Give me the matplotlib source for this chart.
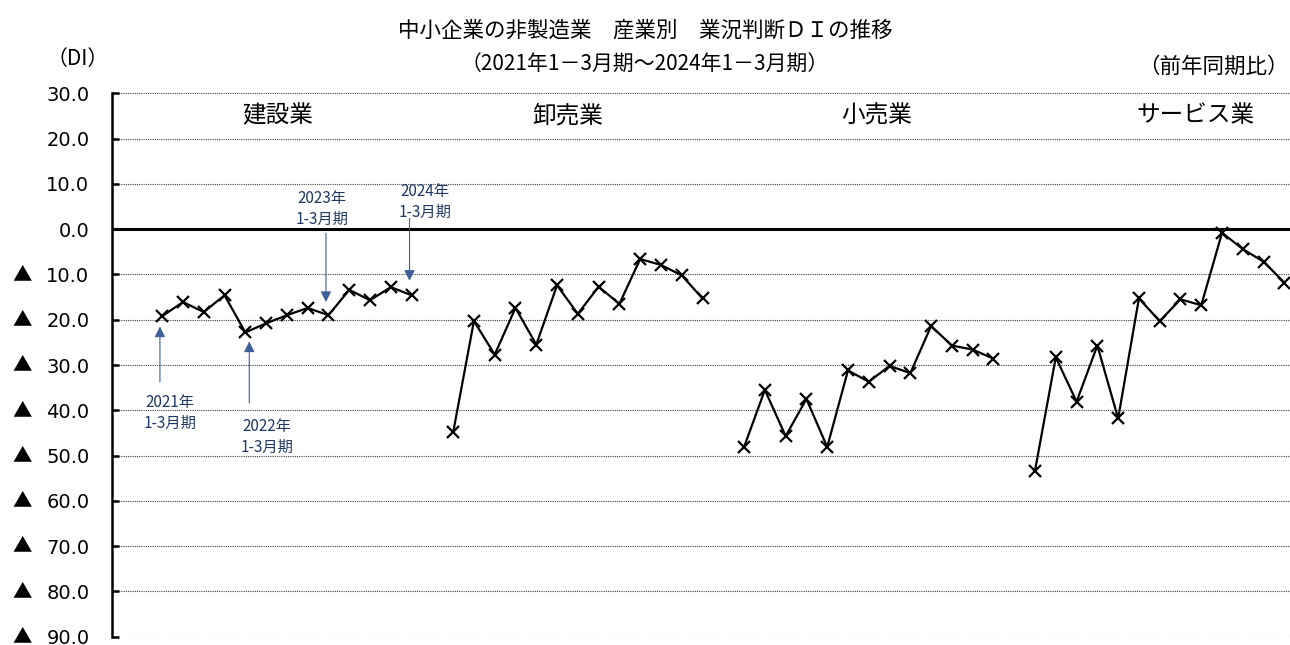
import numpy as np
import matplotlib.pyplot as plt
from matplotlib.transforms import blended_transform_factory

plt.rcParams['font.family'] = ['Noto Sans CJK JP', 'DejaVu Sans']

# 業況判断DI（前年同期比）, 2021年1-3月期 〜 2024年1-3月期
industries = ['建設業', '卸売業', '小売業', 'サービス業']
construction = [-19.2, -16.1, -18.3, -14.6, -22.8, -20.8, -19.0, -17.4, -19.0, -13.4, -15.7, -12.8, -14.6]
wholesale = [-44.9, -20.3, -27.7, -17.4, -25.5, -12.4, -18.7, -12.7, -16.5, -6.6, -7.9, -10.2, -15.3]
retail = [-48.1, -35.5, -45.7, -37.5, -48.1, -31.2, -33.7, -30.2, -31.8, -21.4, -25.7, -26.6, -28.6]
services = [-53.3, -28.3, -38.1, -25.7, -41.8, -15.3, -20.3, -15.5, -16.8, -0.8, -4.4, -7.2, -11.8]
yticks = [30, 20, 10, 0, -10, -20, -30, -40, -50, -60, -70, -80, -90]

series = [construction, wholesale, retail, services]
n = len(construction)
gap = 1  # one empty quarter between industries
label_x = [5.54, 19.5, 34.4, 49.7]  # where the industry names sit

fig = plt.figure(figsize=(12.9, 6.45), dpi=100)
ax = fig.add_axes([0.0866, 0.0129, 0.9134, 0.8424])

for yv in yticks:
    if yv == 0:
        ax.axhline(yv, color='black', lw=2.2, zorder=1)
    else:
        ax.axhline(yv, color='#444444', lw=0.8, ls=(0, (1, 1)), zorder=1)

for k, vals in enumerate(series):
    x = np.arange(n) + k * (n + gap)
    ax.plot(x, vals, color='black', lw=1.6, marker='x', markersize=8,
            markeredgewidth=1.6, zorder=3)
    ax.text(label_x[k], 25.0, industries[k], ha='center', va='center', fontsize=17)

ax.set_xlim(-2.43, 54.27)
ax.set_ylim(-90, 30)
ax.set_xticks([])
ax.set_yticks(yticks)
# マイナスは▲表記（▲は別に描く）
ax.set_yticklabels(['%.1f' % abs(v) for v in yticks], family='DejaVu Sans', fontsize=14)
ax.tick_params(axis='y', direction='in', length=5, width=1.8, pad=16)
trans = blended_transform_factory(fig.transFigure, ax.transData)
for v in yticks:
    if v < 0:
        ax.text(0.0175, v, '▲', transform=trans, ha='center', va='center',
                fontsize=14, family='Noto Sans CJK JP')
for s in ['top', 'right', 'bottom']:
    ax.spines[s].set_visible(False)
ax.spines['left'].set_linewidth(1.8)

# 各年1-3月期の目印
txt_c = '#1f3864'
arr_c = '#3f5f99'
marks = [
    # (arrow x, tail y, tip y, text x, text top y, label)
    (-0.11, -33.7, -21.5, 0.37, -36.4, '2021年\n1-3月期'),
    (4.19, -38.4, -24.8, 5.04, -41.7, '2022年\n1-3月期'),
    (7.88, -0.9, -16.1, 7.69, 8.7, '2023年\n1-3月期'),
    (11.9, 2.4, -11.4, 12.64, 10.1, '2024年\n1-3月期'),
]
for ax_x, y0, y1, tx, ty, lab in marks:
    ax.annotate('', xy=(ax_x, y1), xytext=(ax_x, y0),
                arrowprops=dict(arrowstyle='-|>', color=arr_c, lw=0.8,
                                mutation_scale=16, shrinkA=0, shrinkB=0),
                zorder=4)
    ax.text(tx, ty, lab, ha='center', va='top', fontsize=11, color=txt_c,
            linespacing=1.3, zorder=4)

fig.text(0.5, 0.952, '中小企業の非製造業　産業別　業況判断ＤＩの推移',
         ha='center', va='center', fontsize=15.5)
fig.text(0.5, 0.899, '（2021年1－3月期～2024年1－3月期）',
         ha='center', va='center', fontsize=15)
fig.text(0.06, 0.909, '（DI）', ha='center', va='center', fontsize=15)
fig.text(0.999, 0.896, '（前年同期比）', ha='right', va='center', fontsize=15.5)

fig.savefig('out.png', dpi=100)
